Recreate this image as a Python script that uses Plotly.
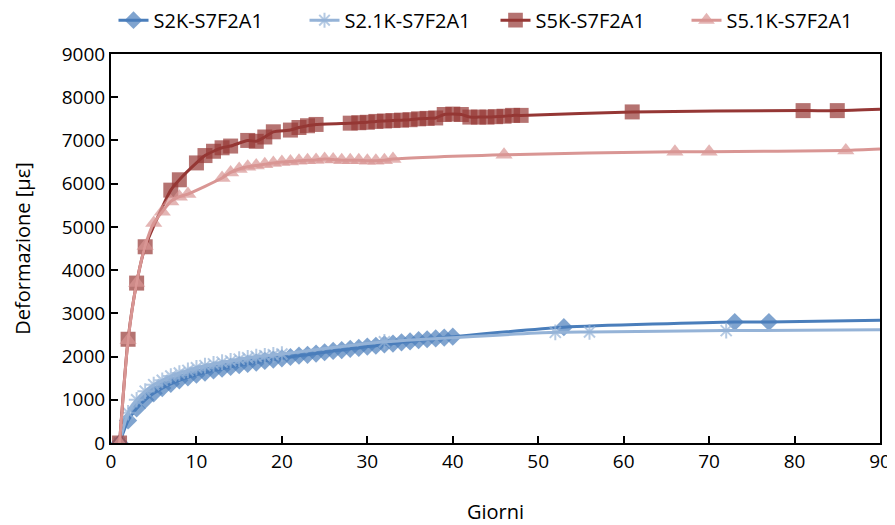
import plotly.graph_objects as go

# ---- data ----
s2k_days = list(range(1, 41)) + [53, 73, 77]
s2k_vals = [0, 520, 800, 1000, 1150, 1270, 1370, 1450, 1520, 1580,
            1630, 1680, 1720, 1760, 1800, 1830, 1860, 1900, 1930, 1960,
            1990, 2020, 2040, 2070, 2100, 2130, 2150, 2180, 2200, 2230,
            2250, 2280, 2300, 2330, 2350, 2380, 2400, 2420, 2440, 2460,
            2680, 2800, 2800]
s2k_end = 2840

s21k_days = list(range(1, 21)) + [32, 52, 56, 72]
s21k_vals = [0, 700, 1000, 1200, 1350, 1450, 1550, 1620, 1680, 1740,
             1790, 1830, 1870, 1900, 1940, 1970, 2000, 2020, 2040, 2060,
             2340, 2560, 2570, 2600]
s21k_end = 2620

s5k_days = [1, 2, 3, 4, 7, 8, 10, 11, 12, 13, 14, 16, 17, 18, 19, 21, 22, 23, 24] + \
           list(range(28, 49)) + [61, 81, 85]
s5k_vals = [0, 2400, 3700, 4540, 5850, 6090, 6480, 6650, 6750, 6830, 6870, 7000, 6980, 7080, 7200,
            7240, 7300, 7340, 7370,
            7400, 7410, 7420, 7440, 7450, 7460, 7470, 7480, 7500, 7510, 7520, 7600, 7610, 7600,
            7540, 7540, 7540, 7550, 7560, 7580, 7580,
            7660, 7690, 7690]
s5k_end = 7720

s51k_days = [1, 2, 3, 4, 5, 6, 7, 8, 9] + list(range(13, 34)) + [46, 66, 70, 86]
s51k_vals = [0, 2380, 3700, 4560, 5090, 5350, 5590, 5700, 5760,
             6130, 6260, 6340, 6390, 6420, 6450, 6480, 6500, 6510, 6530, 6540, 6550, 6570,
             6560, 6540, 6540, 6540, 6530, 6530, 6540, 6570,
             6670, 6740, 6740, 6770]
s51k_end = 6800

axis_end_day = 90
names = ["S2K-S7F2A1", "S2.1K-S7F2A1", "S5K-S7F2A1", "S5.1K-S7F2A1"]
colors = ["#4A7EBB", "#95B3D7", "#953735", "#D99694"]
symbols = ["diamond", "asterisk-open", "square", "triangle-up"]
sizes = [14, 13, 15, 15]

series = [
    (s2k_days, s2k_vals, s2k_end),
    (s21k_days, s21k_vals, s21k_end),
    (s5k_days, s5k_vals, s5k_end),
    (s51k_days, s51k_vals, s51k_end),
]

fig = go.Figure()
for (d, v, e), name, c, sym, sz in zip(series, names, colors, symbols, sizes):
    xs = d + [axis_end_day]
    ys = v + [e]
    msz = [sz] * len(d) + [0]
    fig.add_trace(go.Scatter(
        x=xs, y=ys, name=name, mode="lines+markers",
        line=dict(color=c, width=3, shape="spline", smoothing=0.6),
        marker=dict(symbol=sym, size=msz, color=c,
                    line=dict(color=c, width=2 if sym == "asterisk-open" else 0)),
        cliponaxis=True,
    ))

font_family = "'Open Sans', sans-serif"
# page body has an 8px margin, so the figure is sized to fit the 895x525 window
fig.update_layout(
    width=887, height=517,
    margin=dict(l=103, r=15, t=46, b=82, autoexpand=False),
    paper_bgcolor="white", plot_bgcolor="white",
    font=dict(family=font_family, size=19, color="#000000"),
    legend=dict(orientation="h", x=0.5, xanchor="center", y=1.087, yanchor="middle",
                font=dict(size=20), entrywidth=146, entrywidthmode="pixels",
                tracegroupgap=0, bgcolor="rgba(0,0,0,0)"),
    showlegend=True,
)
fig.update_xaxes(
    range=[0, 90], dtick=10, tick0=0, automargin=False,
    showline=True, linecolor="black", linewidth=2, mirror=True,
    ticks="inside", ticklen=7, tickwidth=2, tickcolor="black",
    showgrid=False, zeroline=False,
    title=dict(text="Giorni", font=dict(size=20), standoff=32),
    tickfont=dict(size=19),
)
fig.update_yaxes(
    range=[0, 9000], dtick=1000, tick0=0, automargin=False,
    showline=True, linecolor="black", linewidth=2, mirror=True,
    ticks="inside", ticklen=7, tickwidth=2, tickcolor="black",
    showgrid=False, zeroline=False,
    title=dict(text="Deformazione [με]", font=dict(size=20), standoff=26),
    tickfont=dict(size=19),
)

fig.write_html("out.html")
